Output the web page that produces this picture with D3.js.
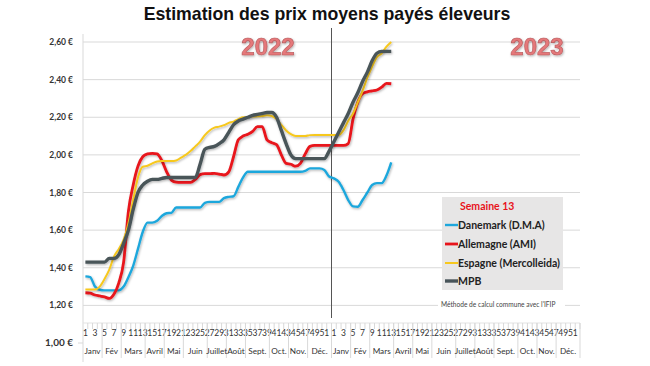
<!DOCTYPE html>
<html>
<head>
<meta charset="utf-8">
<script src="https://cdn.jsdelivr.net/npm/d3@7"></script>
<style>
  body { margin: 0; background: #fff; }
  svg { display: block; font-family: Lato, "Liberation Sans", sans-serif; }
</style>
</head>
<body>
<svg width="650" height="366"></svg>
<script>
// categories: 52 weeks of 2022 then 52 weeks of 2023
const years = ["2022", "2023"]
const weeks = d3.range(1, 53)
const months = ["Janv", "Fév", "Mars", "Avril", "Mai", "Juin", "Juillet", "Août", "Sept.", "Oct.", "Nov.", "Déc."]
const monthWeeks = [4, 4, 5, 4, 4, 5, 4, 4, 5, 4, 4, 5]
const yTicks = [1.0, 1.2, 1.4, 1.6, 1.8, 2.0, 2.2, 2.4, 2.6]

// weekly prices, 2022 w1 .. 2023 w13
const danemark = [1.354, 1.35, 1.30, 1.283, 1.28, 1.28, 1.28, 1.28, 1.30, 1.35, 1.41, 1.50, 1.59, 1.64, 1.64, 1.65,
  1.675, 1.69, 1.692, 1.72, 1.72, 1.72, 1.72, 1.72, 1.72, 1.745, 1.75, 1.75, 1.75, 1.77, 1.777, 1.78, 1.83, 1.88,
  1.91, 1.91, 1.91, 1.91, 1.91, 1.91, 1.91, 1.91, 1.91, 1.91, 1.91, 1.91, 1.915, 1.928, 1.928, 1.928, 1.92, 1.885,
  1.875, 1.857, 1.813, 1.76, 1.726, 1.724, 1.76, 1.80, 1.84, 1.85, 1.85, 1.89, 1.96]
const allemagne = [1.267, 1.265, 1.255, 1.25, 1.245, 1.237, 1.26, 1.32, 1.43, 1.70, 1.84, 1.94, 1.99, 2.005, 2.008,
  2.005, 1.97, 1.91, 1.866, 1.855, 1.854, 1.854, 1.854, 1.87, 1.895, 1.90, 1.90, 1.902, 1.898, 1.893, 1.91, 1.99,
  2.08, 2.10, 2.11, 2.125, 2.15, 2.15, 2.08, 2.065, 2.055, 2.00, 1.955, 1.95, 1.94, 1.955, 2.005, 2.045, 2.05, 2.05,
  2.05, 2.05, 2.05, 2.05, 2.05, 2.06, 2.19, 2.28, 2.325, 2.335, 2.34, 2.345, 2.36, 2.38, 2.378]
const espagne = [1.285, 1.285, 1.285, 1.30, 1.34, 1.39, 1.46, 1.50, 1.55, 1.635, 1.76, 1.88, 1.937, 1.942, 1.955,
  1.965, 1.967, 1.967, 1.967, 1.97, 1.985, 2.00, 2.02, 2.045, 2.07, 2.105, 2.13, 2.145, 2.15, 2.158, 2.17, 2.177,
  2.19, 2.20, 2.20, 2.204, 2.205, 2.207, 2.21, 2.207, 2.19, 2.16, 2.13, 2.11, 2.10, 2.10, 2.10, 2.105, 2.106, 2.106,
  2.106, 2.106, 2.106, 2.106, 2.13, 2.18, 2.22, 2.28, 2.34, 2.41, 2.47, 2.52, 2.54, 2.575, 2.60]
const mpb = [1.43, 1.43, 1.43, 1.43, 1.43, 1.45, 1.45, 1.47, 1.53, 1.60, 1.71, 1.80, 1.84, 1.86, 1.87, 1.87, 1.875,
  1.88, 1.88, 1.88, 1.88, 1.88, 1.88, 1.88, 1.95, 2.03, 2.04, 2.045, 2.06, 2.08, 2.12, 2.16, 2.18, 2.19, 2.20, 2.21,
  2.215, 2.22, 2.225, 2.225, 2.20, 2.13, 2.06, 2.00, 1.98, 1.98, 1.98, 1.98, 1.98, 1.98, 1.98, 2.02, 2.07, 2.12,
  2.17, 2.22, 2.28, 2.33, 2.39, 2.44, 2.50, 2.54, 2.55, 2.55, 2.55]

const series = [
  { name: "Danemark (D.M.A)", values: danemark, color: "#1ea7dc", width: 2.4 },
  { name: "Allemagne (AMI)", values: allemagne, color: "#e8141b", width: 2.8 },
  { name: "Espagne (Mercolleida)", values: espagne, color: "#f7c81e", width: 2 },
  { name: "MPB", values: mpb, color: "#485459", width: 3.4 }
]

const svg = d3.select("svg")
const plotLeft = 83, plotRight = 580, plotTop = 42, plotBottom = 343

const categories = []
years.forEach(yr => weeks.forEach(w => categories.push(yr + "-" + w)))

const x = d3.scaleBand().domain(categories).range([plotLeft, plotRight])
const y = d3.scaleLinear().domain([1, 2.6]).range([plotBottom, plotTop])

let defs = svg.append("defs")
let shadow = defs.append("filter").attr("id", "shadow")
  .attr("x", "-10%").attr("y", "-10%").attr("width", "120%").attr("height", "130%")
shadow.append("feDropShadow").attr("dx", 0.8).attr("dy", 1.2)
  .attr("stdDeviation", 0.8).attr("flood-color", "#000").attr("flood-opacity", 0.3)

// gridlines
svg.append("g").selectAll("line")
  .data(yTicks.filter(d => d > 1))
  .enter().append("line")
  .attr("x1", plotLeft).attr("x2", plotRight)
  .attr("y1", d => y(d)).attr("y2", d => y(d))
  .attr("stroke", "#d9d9d9").attr("stroke-width", 1)

// y axis line + labels
svg.append("line").attr("x1", plotLeft).attr("x2", plotLeft).attr("y1", 34).attr("y2", 362)
  .attr("stroke", "#d9d9d9")
svg.append("line").attr("x1", plotLeft - 5).attr("x2", plotLeft).attr("y1", y(1)).attr("y2", y(1))
  .attr("stroke", "#d9d9d9")
svg.append("g").selectAll("text")
  .data(yTicks)
  .enter().append("text")
  .attr("x", plotLeft - 10).attr("y", d => y(d) + 3)
  .attr("text-anchor", "end")
  .attr("font-size", d => d === 1 ? 10 : 8.5)
  .attr("font-weight", "bold")
  .attr("fill", "#333")
  .text(d => d3.format(".2f")(d).replace(".", ",") + " €")

// category axis
const axisY = 323
svg.append("line").attr("x1", plotLeft).attr("x2", plotRight).attr("y1", axisY).attr("y2", axisY)
  .attr("stroke", "#e3e3e3")
svg.append("g").selectAll("line")
  .data(categories)
  .enter().append("line")
  .attr("x1", d => x(d) + x.bandwidth()).attr("x2", d => x(d) + x.bandwidth())
  .attr("y1", axisY).attr("y2", axisY + 6)
  .attr("stroke", "#d9d9d9")
svg.append("g").selectAll("text")
  .data(categories.filter((d, i) => i % 2 === 0))
  .enter().append("text")
  .attr("x", d => x(d) + x.bandwidth() / 2)
  .attr("y", 336)
  .attr("text-anchor", "middle")
  .attr("font-size", 8.5)
  .attr("fill", "#333")
  .text(d => d.split("-")[1])

// month row
let monthCats = []
years.forEach(yr => {
  let w = 1
  months.forEach((m, k) => {
    monthCats.push({ name: m, from: yr + "-" + w, to: yr + "-" + (w + monthWeeks[k] - 1) })
    w += monthWeeks[k]
  })
})
svg.append("g").selectAll("line")
  .data(monthCats)
  .enter().append("line")
  .attr("x1", d => x(d.to) + x.bandwidth()).attr("x2", d => x(d.to) + x.bandwidth())
  .attr("y1", axisY).attr("y2", 358)
  .attr("stroke", "#d9d9d9")
svg.append("g").selectAll("text")
  .data(monthCats)
  .enter().append("text")
  .attr("x", d => (x(d.from) + x(d.to) + x.bandwidth()) / 2)
  .attr("y", 354)
  .attr("text-anchor", "middle")
  .attr("font-size", 8.2)
  .attr("fill", "#333")
  .text(d => d.name)

// year divider
svg.append("line")
  .attr("x1", x("2023-1")).attr("x2", x("2023-1"))
  .attr("y1", 28).attr("y2", 318)
  .attr("stroke", "#555").attr("stroke-width", 1)

// series
const line = d3.line()
  .x((d, i) => x(categories[i]) + x.bandwidth() / 2)
  .y(d => y(d))
  .curve(d3.curveMonotoneX)

svg.append("g").selectAll("path")
  .data(series)
  .enter().append("path")
  .attr("d", d => line(d.values))
  .attr("fill", "none")
  .attr("stroke", d => d.color)
  .attr("stroke-width", d => d.width)
  .attr("stroke-linejoin", "round")
  .attr("filter", "url(#shadow)")

// year labels
svg.append("g").selectAll("text")
  .data(years)
  .enter().append("text")
  .attr("x", (d, i) => i === 0 ? 268 : 537)
  .attr("y", 55)
  .attr("text-anchor", "middle")
  .attr("font-family", "Liberation Sans, Arial, sans-serif")
  .attr("font-size", 24)
  .attr("font-weight", "bold")
  .attr("fill", "#e5787a")
  .attr("stroke", "#b4585a")
  .attr("stroke-width", 0.6)
  .attr("filter", "url(#shadow)")
  .text(d => d)

// title
svg.append("text")
  .attr("x", 327).attr("y", 20)
  .attr("text-anchor", "middle")
  .attr("font-family", "Liberation Sans, Arial, sans-serif")
  .attr("font-size", 17.7)
  .attr("font-weight", "bold")
  .attr("fill", "#111")
  .text("Estimation des prix moyens payés éleveurs")

// legend box
let legend = svg.append("g")
legend.append("rect")
  .attr("x", 442).attr("y", 197).attr("width", 121).attr("height", 93)
  .attr("fill", "#e7e6e6")
legend.append("text")
  .attr("x", 460).attr("y", 210)
  .attr("font-size", 10.5).attr("font-weight", "bold").attr("fill", "#e8141b")
  .text("Semaine 13")
legend.selectAll("g.item")
  .data(series)
  .enter().append("g")
  .attr("transform", (d, i) => "translate(445," + [225, 244, 263, 281][i] + ")")
  .each(function (d) {
    let g = d3.select(this)
    g.append("line").attr("x1", 0).attr("x2", 13).attr("y1", 0).attr("y2", 0)
      .attr("stroke", d.color).attr("stroke-width", d.width)
    g.append("text").attr("x", 13).attr("y", 4)
      .attr("font-size", 10.5).attr("font-weight", "bold").attr("fill", "#222")
      .text(d.name)
  })

// note
svg.append("rect").attr("x", 438).attr("y", 300).attr("width", 127).attr("height", 9).attr("fill", "#fff")
svg.append("text")
  .attr("x", 441).attr("y", 307)
  .attr("font-size", 6.6).attr("fill", "#444")
  .text("Méthode de calcul commune avec l'IFIP")
</script>
</body>
</html>
